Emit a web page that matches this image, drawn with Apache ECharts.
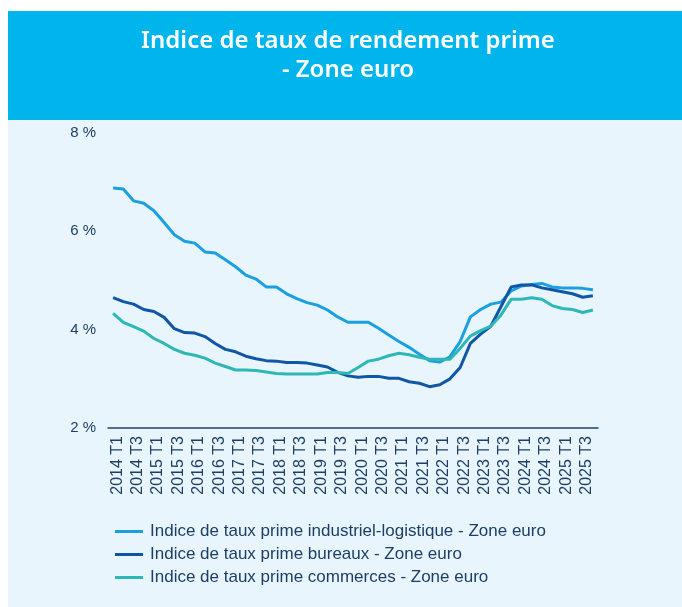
<!DOCTYPE html>
<html>
<head>
<meta charset="utf-8">
<script src="https://cdn.jsdelivr.net/npm/echarts@6/dist/echarts.min.js"></script>
<style>
  html, body { margin: 0; padding: 0; background: #fff; }
  #chart { width: 682px; height: 607px; }
</style>
</head>
<body>
<div id="chart"></div>
<script>
// quarters 2014 T1 -> 2025 T4
const quarters = []
for (let y = 2014; y <= 2025; y++) {
  for (let q = 1; q <= 4; q++) quarters.push(y + ' T' + q)
}

const industriel = [6.88, 6.86, 6.62, 6.57, 6.42, 6.18, 5.93, 5.80, 5.76, 5.58, 5.56, 5.42,
  5.28, 5.11, 5.03, 4.87, 4.87, 4.73, 4.63, 4.55, 4.50, 4.40, 4.26, 4.15,
  4.15, 4.15, 4.03, 3.89, 3.76, 3.64, 3.50, 3.37, 3.34, 3.45, 3.76, 4.26,
  4.41, 4.52, 4.56, 4.79, 4.89, 4.92, 4.94, 4.87, 4.85, 4.85, 4.84, 4.81]
const bureaux = [4.65, 4.57, 4.52, 4.41, 4.37, 4.25, 4.02, 3.94, 3.93, 3.86, 3.72, 3.60,
  3.55, 3.46, 3.41, 3.37, 3.36, 3.33, 3.33, 3.32, 3.28, 3.24, 3.13, 3.06,
  3.03, 3.05, 3.05, 3.01, 3.01, 2.94, 2.91, 2.84, 2.88, 3.00, 3.23, 3.72,
  3.91, 4.07, 4.47, 4.87, 4.91, 4.91, 4.85, 4.81, 4.77, 4.73, 4.66, 4.69]
const commerces = [4.33, 4.15, 4.06, 3.97, 3.82, 3.72, 3.60, 3.52, 3.48, 3.42, 3.32, 3.25,
  3.18, 3.18, 3.17, 3.14, 3.11, 3.10, 3.10, 3.10, 3.10, 3.13, 3.13, 3.11,
  3.23, 3.36, 3.40, 3.47, 3.52, 3.49, 3.44, 3.40, 3.40, 3.40, 3.62, 3.87,
  3.98, 4.07, 4.30, 4.62, 4.62, 4.65, 4.62, 4.49, 4.43, 4.41, 4.35, 4.40]

const yTicks = [2, 4, 6, 8]

const navy = '#1d3f66'
const dom = echarts.init(document.getElementById('chart'))

const option = {
  backgroundColor: '#ffffff',
  animation: false,
  graphic: [
    {
      type: 'rect',
      left: 8, top: 11,
      shape: { width: 674, height: 596 },
      style: { fill: '#e8f5fc' },
      z: -10
    },
    {
      type: 'rect',
      left: 8, top: 11,
      shape: { width: 674, height: 109 },
      style: { fill: '#00b5ec' },
      z: -9
    }
  ],
  title: {
    text: 'Indice de taux de rendement prime\n- Zone euro',
    left: 343,
    top: 22,
    textAlign: 'center',
    textStyle: {
      color: '#fff',
      fontFamily: 'Noto Sans',
      fontWeight: 600,
      fontSize: 24,
      lineHeight: 29
    }
  },
  legend: {
    orient: 'vertical',
    left: 110,
    top: 518,
    itemWidth: 28,
    itemHeight: 3,
    itemGap: 6,
    icon: 'rect',
    textStyle: {
      color: navy,
      fontFamily: 'Liberation Sans',
      fontSize: 17,
      padding: [0, 0, 0, 2]
    },
    data: [
      'Indice de taux prime industriel-logistique - Zone euro',
      'Indice de taux prime bureaux - Zone euro',
      'Indice de taux prime commerces - Zone euro'
    ]
  },
  grid: {
    left: 108,
    right: 84,
    top: 133,
    bottom: 179
  },
  xAxis: {
    type: 'category',
    data: quarters,
    boundaryGap: true,
    axisLine: { lineStyle: { color: navy, width: 1.5 } },
    axisTick: { show: false },
    axisLabel: {
      interval: 1,
      rotate: 90,
      margin: 8,
      color: navy,
      fontFamily: 'Liberation Sans',
      fontSize: 16,
      verticalAlign: 'top',
      lineHeight: 8
    }
  },
  yAxis: {
    type: 'value',
    min: yTicks[0],
    max: yTicks[yTicks.length - 1],
    interval: 2,
    axisLine: { show: false },
    axisTick: { show: false },
    splitLine: { show: false },
    axisLabel: {
      formatter: '{value} %',
      margin: 12,
      color: navy,
      fontFamily: 'Liberation Sans',
      fontSize: 15
    }
  },
  series: [
    {
      name: 'Indice de taux prime industriel-logistique - Zone euro',
      type: 'line',
      showSymbol: false,
      data: industriel,
      lineStyle: { width: 3, color: '#1a9fe0' },
      itemStyle: { color: '#1a9fe0' }
    },
    {
      name: 'Indice de taux prime bureaux - Zone euro',
      type: 'line',
      showSymbol: false,
      data: bureaux,
      lineStyle: { width: 3, color: '#0f56a6' },
      itemStyle: { color: '#0f56a6' }
    },
    {
      name: 'Indice de taux prime commerces - Zone euro',
      type: 'line',
      showSymbol: false,
      data: commerces,
      lineStyle: { width: 3, color: '#2db8b6' },
      itemStyle: { color: '#2db8b6' }
    }
  ]
}

dom.setOption(option)
</script>
</body>
</html>
